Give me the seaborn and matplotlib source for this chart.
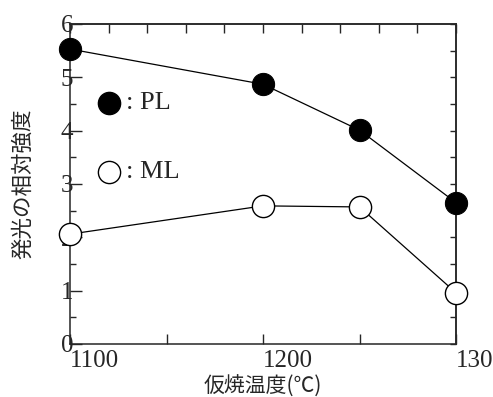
import numpy as np
import pandas as pd
import matplotlib
matplotlib.use("Agg")
import matplotlib.pyplot as plt
import seaborn as sns

# data
temps = [1100, 1200, 1250, 1300]
pl = [5.53, 4.87, 4.01, 2.65]
ml = [2.06, 2.59, 2.57, 0.96]

sns.set_style("ticks")
plt.rcParams["font.family"] = ["Liberation Serif", "Noto Sans CJK JP"]

df = pd.DataFrame({"temp": temps, "PL": pl, "ML": ml})

fig = plt.figure(figsize=(4.93, 3.97), dpi=100)
ax = fig.add_axes([70 / 493, 53 / 397, 386 / 493, 320 / 397])

sns.lineplot(data=df, x="temp", y="PL", ax=ax, color="black", lw=0.9,
             marker="o", markersize=16, markerfacecolor="black",
             markeredgecolor="black", clip_on=False, zorder=3)
sns.lineplot(data=df, x="temp", y="ML", ax=ax, color="black", lw=0.9,
             marker="o", markersize=16, markerfacecolor="white",
             markeredgecolor="black", markeredgewidth=1.0, clip_on=False, zorder=3)

ax.set_xlim(1100, 1300)
ax.set_ylim(0, 6)

for s in ax.spines.values():
    s.set_linewidth(1.1)
    s.set_visible(True)

# bottom / left ticks
ax.set_xticks([1100, 1200, 1300])
ax.set_xticks([1150, 1250], minor=True)
ax.set_yticks(range(0, 7))
ax.set_yticks(np.arange(0.5, 6, 1.0), minor=True)
ax.tick_params(axis="x", which="both", direction="in", length=7, width=1,
               labelsize=18, pad=4)
ax.tick_params(axis="y", which="major", direction="in", length=8.5, width=1,
               labelsize=18, pad=-2.5)
ax.tick_params(axis="y", which="minor", direction="in", length=4.3, width=1)
for lbl in ax.get_xticklabels():
    lbl.set_horizontalalignment("left")

# top / right ticks
top = ax.secondary_xaxis("top")
top.set_xticks(np.arange(1100, 1301, 20))
top.tick_params(direction="in", length=6.5, width=1, labeltop=False)
top.spines["top"].set_linewidth(1.1)
right = ax.secondary_yaxis("right")
right.set_yticks(np.arange(0, 6.01, 0.5))
right.tick_params(direction="in", length=4.3, width=1, labelright=False)
right.spines["right"].set_linewidth(1.1)

ax.set_xlabel("仮焼温度(℃)", family=["Noto Sans CJK JP"], fontsize=15, labelpad=3)
ax.set_ylabel("発光の相対強度", family=["Noto Sans CJK JP"], fontsize=15.5, labelpad=19)

# in-plot key
ax.plot(1120, 4.52, "o", ms=16, color="black")
ax.text(1129, 4.52, ": PL", fontsize=19, va="center", ha="left")
ax.plot(1120, 3.23, "o", ms=16, mfc="white", mec="black", mew=1.0)
ax.text(1129, 3.23, ": ML", fontsize=19, va="center", ha="left")

fig.savefig("out.png", dpi=100)
